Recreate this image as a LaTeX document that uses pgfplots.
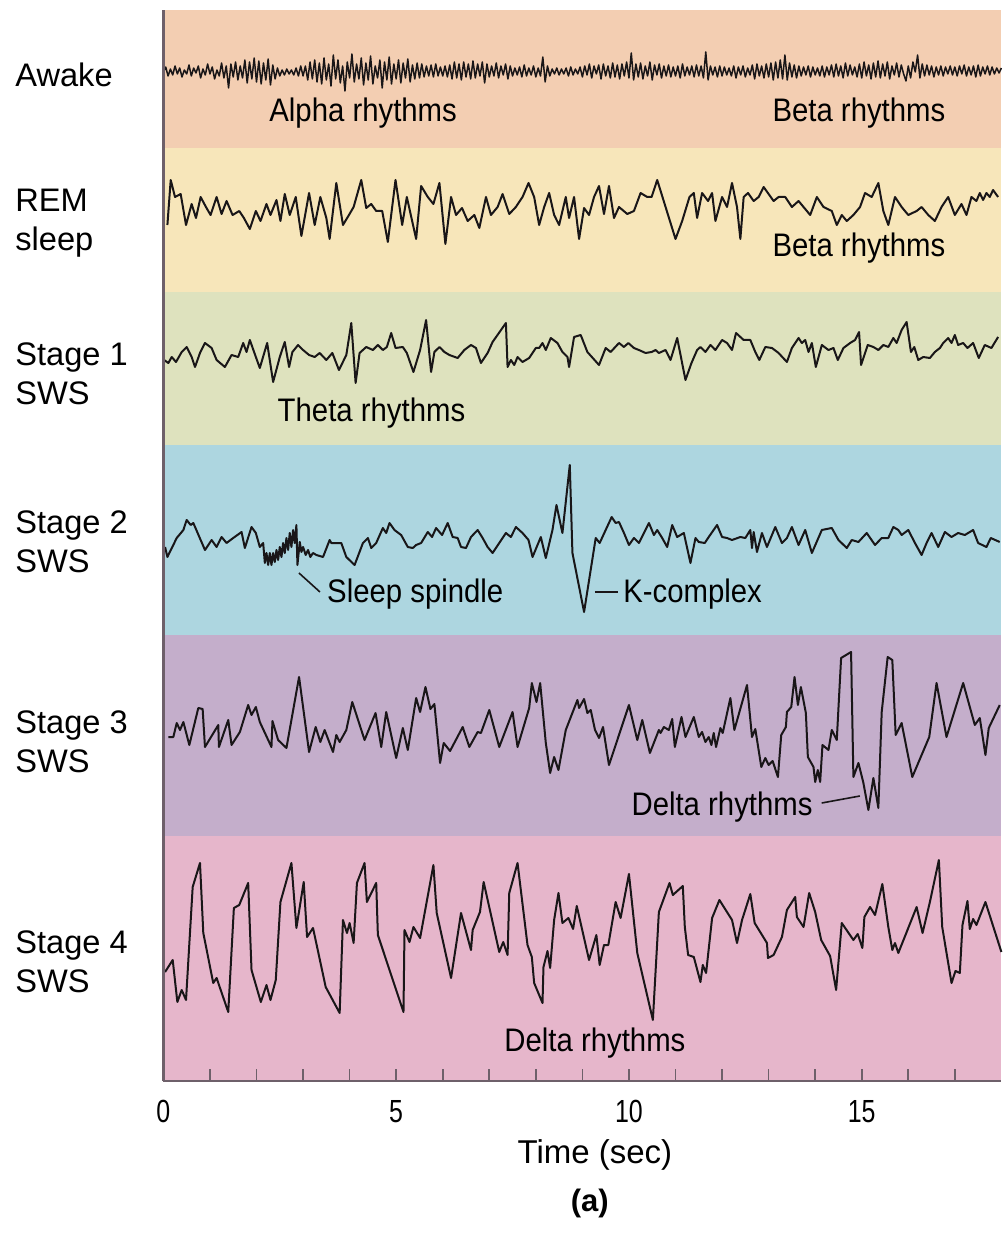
\documentclass[border=0pt]{standalone}
\usepackage{fontspec}
\setmainfont{Liberation Sans}
\newfontfamily\cond[FakeStretch=0.9]{Liberation Sans}
\newfontfamily\tickf[FakeStretch=0.78]{Liberation Sans}
\usepackage{pgfplots}
\pgfplotsset{compat=1.18}
\definecolor{cawake}{RGB}{243,206,178}
\definecolor{crem}{RGB}{247,230,186}
\definecolor{cs1}{RGB}{222,226,190}
\definecolor{cs2}{RGB}{173,214,224}
\definecolor{cs3}{RGB}{196,174,203}
\definecolor{cs4}{RGB}{230,182,203}
\definecolor{axc}{RGB}{110,96,106}
\definecolor{trc}{RGB}{25,22,24}
\newcommand\lab{\fontsize{16.3}{19.5}\selectfont}
\begin{document}
\begin{tikzpicture}
\useasboundingbox (-81.7pt,-78.5pt) rectangle (420.8pt,540.5pt);
\begin{axis}[
 scale only axis, width=419pt, height=535.5pt,
 xmin=0, xmax=18, ymin=-1081, ymax=-10,
 axis x line*=bottom, axis y line*=left,
 axis line style={-, draw=axc, line width=1.4pt},
 xtick={0,5,10,15}, minor xtick={1,2,3,4,6,7,8,9,11,12,13,14,16,17},
 ytick=\empty,
 xtick align=inside,
 major tick length=6pt, minor tick length=6pt,
 every tick/.style={draw=axc, line width=0.8pt},
 xticklabel style={font=\tickf\fontsize{16}{18}\selectfont, inner sep=0pt, anchor=north, yshift=-9.5pt},
 /pgf/number format/assume math mode=true,
 axis on top, clip=false,
]
% bands
\addplot[fill=cawake, draw=none] coordinates {(0,-10) (18,-10) (18,-148) (0,-148)} -- cycle;
\addplot[fill=crem, draw=none] coordinates {(0,-148) (18,-148) (18,-292) (0,-292)} -- cycle;
\addplot[fill=cs1, draw=none] coordinates {(0,-292) (18,-292) (18,-445) (0,-445)} -- cycle;
\addplot[fill=cs2, draw=none] coordinates {(0,-445) (18,-445) (18,-635) (0,-635)} -- cycle;
\addplot[fill=cs3, draw=none] coordinates {(0,-635) (18,-635) (18,-836) (0,-836)} -- cycle;
\addplot[fill=cs4, draw=none] coordinates {(0,-836) (18,-836) (18,-1081) (0,-1081)} -- cycle;
% Awake
\addplot[trc, line width=0.75pt, line join=round] coordinates {
(0.00,-72)(0.05,-67)(0.10,-76)(0.15,-69)(0.20,-75)(0.25,-66)(0.30,-74)(0.35,-68)(0.40,-77)(0.45,-70)(0.50,-74)(0.55,-65)(0.60,-76)(0.65,-68)(0.70,-73)(0.75,-66)(0.80,-78)(0.85,-69)(0.90,-75)(0.95,-64)
(1.00,-74)(1.05,-67)(1.10,-79)(1.15,-70)(1.20,-76)(1.25,-63)(1.30,-78)(1.35,-66)(1.40,-88)(1.45,-64)(1.50,-77)(1.55,-62)(1.60,-80)(1.65,-66)(1.70,-78)(1.75,-60)(1.80,-83)(1.85,-62)(1.90,-79)(1.95,-58)
(2.00,-82)(2.05,-61)(2.10,-84)(2.15,-63)(2.20,-80)(2.25,-59)(2.30,-85)(2.35,-65)(2.40,-79)(2.45,-68)(2.50,-76)(2.55,-70)(2.60,-75)(2.65,-69)(2.70,-74)(2.75,-70)(2.80,-75)(2.85,-68)(2.90,-76)(2.95,-66)
(3.00,-76)(3.05,-66)(3.10,-80)(3.15,-62)(3.20,-79)(3.25,-60)(3.30,-82)(3.35,-63)(3.40,-84)(3.45,-58)(3.50,-80)(3.55,-64)(3.60,-86)(3.65,-55)(3.70,-79)(3.75,-60)(3.80,-83)(3.85,-66)(3.90,-91)(3.95,-62)
(4.00,-78)(4.05,-54)(4.10,-82)(4.15,-64)(4.20,-79)(4.25,-58)(4.30,-85)(4.35,-63)(4.40,-80)(4.45,-56)(4.50,-84)(4.55,-66)(4.60,-78)(4.65,-60)(4.70,-88)(4.75,-62)(4.80,-80)(4.85,-57)(4.90,-84)(4.95,-64)
(5.00,-79)(5.05,-60)(5.10,-83)(5.15,-63)(5.20,-78)(5.25,-59)(5.30,-82)(5.35,-65)(5.40,-79)(5.45,-63)(5.50,-78)(5.55,-64)(5.60,-77)(5.65,-66)(5.70,-76)(5.75,-65)(5.80,-77)(5.85,-64)(5.90,-76)(5.95,-67)
(6.00,-76)(6.05,-66)(6.10,-77)(6.15,-65)(6.20,-79)(6.25,-62)(6.30,-78)(6.35,-64)(6.40,-80)(6.45,-62)(6.50,-77)(6.55,-64)(6.60,-79)(6.65,-61)(6.70,-78)(6.75,-64)(6.80,-76)(6.85,-62)(6.90,-83)(6.95,-64)
(7.00,-77)(7.05,-66)(7.10,-76)(7.15,-63)(7.20,-78)(7.25,-66)(7.30,-75)(7.35,-64)(7.40,-79)(7.45,-66)(7.50,-76)(7.55,-68)(7.60,-75)(7.65,-67)(7.70,-77)(7.75,-65)(7.80,-76)(7.85,-68)(7.90,-75)(7.95,-66)
(8.00,-77)(8.05,-68)(8.10,-76)(8.15,-57)(8.20,-82)(8.25,-66)(8.30,-76)(8.35,-69)(8.40,-74)(8.45,-68)(8.50,-75)(8.55,-69)(8.60,-74)(8.65,-68)(8.70,-76)(8.75,-67)(8.80,-75)(8.85,-69)(8.90,-74)(8.95,-67)
(9.00,-77)(9.05,-66)(9.10,-75)(9.15,-64)(9.20,-78)(9.25,-66)(9.30,-74)(9.35,-65)(9.40,-79)(9.45,-64)(9.50,-76)(9.55,-66)(9.60,-78)(9.65,-63)(9.70,-77)(9.75,-65)(9.80,-79)(9.85,-64)(9.90,-76)(9.95,-62)
(10.00,-78)(10.05,-53)(10.10,-80)(10.15,-64)(10.20,-77)(10.25,-63)(10.30,-79)(10.35,-66)(10.40,-76)(10.45,-62)(10.50,-80)(10.55,-65)(10.60,-75)(10.65,-64)(10.70,-78)(10.75,-66)(10.80,-76)(10.85,-65)(10.90,-77)(10.95,-67)
(11.00,-76)(11.05,-66)(11.10,-78)(11.15,-64)(11.20,-76)(11.25,-67)(11.30,-75)(11.35,-66)(11.40,-77)(11.45,-65)(11.50,-76)(11.55,-66)(11.60,-78)(11.65,-52)(11.70,-80)(11.75,-66)(11.80,-75)(11.85,-67)(11.90,-77)(11.95,-66)
(12.00,-76)(12.05,-67)(12.10,-75)(12.15,-68)(12.20,-76)(12.25,-66)(12.30,-78)(12.35,-67)(12.40,-75)(12.45,-66)(12.50,-77)(12.55,-68)(12.60,-75)(12.65,-65)(12.70,-79)(12.75,-64)(12.80,-76)(12.85,-66)(12.90,-78)(12.95,-64)
(13.00,-77)(13.05,-63)(13.10,-80)(13.15,-62)(13.20,-78)(13.25,-60)(13.30,-79)(13.35,-55)(13.40,-80)(13.45,-63)(13.50,-77)(13.55,-65)(13.60,-78)(13.65,-66)(13.70,-76)(13.75,-67)(13.80,-75)(13.85,-66)(13.90,-77)(13.95,-67)
(14.00,-75)(14.05,-68)(14.10,-76)(14.15,-66)(14.20,-77)(14.25,-67)(14.30,-75)(14.35,-65)(14.40,-77)(14.45,-64)(14.50,-76)(14.55,-66)(14.60,-78)(14.65,-63)(14.70,-76)(14.75,-65)(14.80,-75)(14.85,-67)(14.90,-77)(14.95,-64)
(15.00,-78)(15.05,-62)(15.10,-76)(15.15,-65)(15.20,-79)(15.25,-63)(15.30,-77)(15.35,-61)(15.40,-78)(15.45,-64)(15.50,-76)(15.55,-62)(15.60,-79)(15.65,-66)(15.70,-75)(15.75,-63)(15.80,-77)(15.85,-65)(15.90,-74)(15.95,-81)
(16.00,-66)(16.05,-78)(16.10,-62)(16.15,-72)(16.20,-55)(16.25,-78)(16.30,-64)(16.35,-76)(16.40,-65)(16.45,-75)(16.50,-66)(16.55,-77)(16.60,-67)(16.65,-75)(16.70,-66)(16.75,-76)(16.80,-67)(16.85,-74)(16.90,-66)(16.95,-75)
(17.00,-67)(17.05,-76)(17.10,-66)(17.15,-74)(17.20,-65)(17.25,-76)(17.30,-67)(17.35,-75)(17.40,-66)(17.45,-77)(17.50,-65)(17.55,-76)(17.60,-67)(17.65,-74)(17.70,-66)(17.75,-75)(17.80,-67)(17.85,-74)(17.90,-68)(17.95,-73)(18.00,-68)
};
% REM
\addplot[trc, line width=1pt, line join=round] coordinates {
(0.086,-225)(0.157,-180)(0.25,-197)(0.371,-194)(0.486,-225)(0.607,-204)(0.70,-218)(0.80,-197)(0.914,-207)(1.014,-215)(1.143,-197)(1.25,-214)(1.357,-201)(1.486,-215)(1.629,-211)(1.729,-218)(1.857,-229)(1.986,-211)(2.086,-221)(2.214,-204)(2.30,-215)(2.429,-200)(2.514,-221)(2.607,-194)(2.714,-215)(2.843,-197)(2.964,-236)(3.129,-193)(3.25,-225)(3.371,-197)(3.50,-218)(3.571,-239)(3.714,-183)(3.857,-225)(3.986,-215)(4.086,-207)(4.25,-180)(4.357,-208)(4.464,-204)(4.571,-211)(4.70,-211)(4.821,-242)(4.986,-180)(5.129,-225)(5.229,-197)(5.429,-239)(5.536,-186)(5.679,-197)(5.80,-204)(5.929,-183)(6.057,-244)(6.179,-197)(6.286,-215)(6.414,-208)(6.536,-221)(6.679,-215)(6.786,-228)(6.929,-197)(7.036,-215)(7.179,-207)(7.286,-194)(7.429,-214)(7.571,-207)(7.714,-197)(7.843,-183)(7.964,-197)(8.071,-225)(8.179,-207)(8.286,-193)(8.393,-215)(8.50,-225)(8.643,-197)
(8.714,-218)(8.821,-197)(8.929,-239)(9.036,-208)(9.143,-215)(9.25,-197)(9.357,-186)(9.464,-214)(9.571,-186)(9.679,-218)(9.786,-207)(9.964,-214)(10.107,-211)(10.25,-193)(10.393,-197)(10.486,-197)(10.607,-180)(11.0,-239)(11.143,-221)(11.30,-197)(11.393,-193)(11.464,-218)(11.571,-193)(11.70,-201)(11.786,-193)(11.857,-221)(12.0,-197)(12.107,-207)(12.214,-183)(12.321,-207)(12.393,-239)(12.464,-197)(12.557,-193)(12.679,-201)(12.786,-197)(12.893,-187)(13.0,-194)(13.107,-201)(13.214,-197)(13.357,-197)(13.50,-207)(13.643,-201)(13.75,-207)(13.893,-215)(14.036,-197)(14.179,-207)(14.357,-211)(14.464,-225)(14.571,-215)(14.679,-221)(14.821,-215)(14.964,-207)(15.071,-193)(15.214,-197)(15.357,-183)(15.464,-211)(15.571,-225)(15.714,-197)(15.857,-207)(16.0,-215)(16.179,-211)(16.286,-207)(16.429,-215)(16.571,-221)(16.714,-207)(16.857,-197)(17.0,-215)(17.143,-204)(17.25,-215)(17.357,-197)(17.464,-201)(17.536,-193)(17.607,-200)(17.679,-193)(17.75,-197)(17.821,-190)(17.929,-197)
};
% Stage 1
\addplot[trc, line width=1pt, line join=round] coordinates {
(0.014,-360)(0.107,-363)(0.179,-357)(0.271,-362)(0.393,-352)(0.50,-347)(0.607,-357)(0.679,-367)(0.786,-353)(0.893,-343)(1.036,-348)(1.143,-360)(1.321,-367)(1.464,-355)(1.607,-357)(1.714,-343)(1.786,-352)(1.857,-340)(1.986,-357)(2.071,-368)(2.229,-343)(2.357,-382)(2.50,-357)(2.607,-342)(2.70,-367)(2.771,-352)(2.893,-345)(3.0,-350)(3.129,-355)(3.25,-357)(3.357,-353)(3.50,-360)(3.629,-353)(3.771,-370)(3.929,-355)(4.036,-323)(4.129,-383)(4.214,-353)(4.357,-347)(4.50,-350)(4.607,-345)(4.714,-350)(4.80,-347)(4.893,-333)(4.986,-348)(5.143,-347)(5.229,-353)(5.371,-372)(5.514,-350)(5.643,-320)(5.75,-372)(5.821,-352)(5.929,-347)(6.036,-352)(6.143,-355)(6.321,-358)(6.464,-350)(6.607,-345)(6.714,-348)(6.821,-363)(6.964,-353)(7.071,-342)(7.357,-323)(7.393,-367)(7.464,-360)(7.536,-365)(7.607,-357)(7.714,-362)(7.857,-358)(8.0,-348)(8.071,-348)(8.143,-343)(8.214,-350)(8.321,-338)(8.464,-343)(8.571,-352)(8.679,-357)
(8.714,-367)(8.821,-337)(8.964,-335)(9.107,-352)(9.357,-365)(9.50,-348)(9.607,-352)(9.786,-343)(9.893,-347)(9.986,-343)(10.107,-348)(10.214,-350)(10.357,-353)(10.486,-352)(10.571,-350)(10.643,-353)(10.786,-350)(10.893,-360)(11.036,-338)(11.214,-380)(11.343,-363)(11.464,-350)(11.536,-347)(11.643,-352)(11.75,-345)(11.857,-350)(12.0,-340)(12.107,-343)(12.214,-350)(12.30,-333)(12.464,-340)(12.607,-340)(12.714,-352)(12.80,-360)(12.929,-347)(13.071,-348)(13.214,-353)(13.393,-362)(13.50,-348)(13.643,-338)(13.714,-343)(13.786,-340)(13.857,-352)(13.929,-343)(14.014,-367)(14.143,-345)(14.286,-350)(14.393,-348)(14.486,-360)(14.607,-348)(14.75,-343)(14.857,-340)(14.943,-332)(14.986,-365)(15.129,-345)(15.25,-347)(15.357,-350)(15.464,-345)(15.571,-347)(15.679,-338)(15.75,-343)(15.857,-330)(15.964,-322)(16.057,-352)(16.129,-347)(16.214,-360)(16.321,-357)(16.464,-358)(16.571,-352)(16.679,-348)(16.75,-343)(16.857,-338)(16.929,-343)(17.0,-335)(17.071,-345)(17.179,-343)(17.271,-348)(17.393,-343)(17.514,-358)(17.643,-345)(17.786,-348)(17.929,-337)
};
% Stage 2
\addplot[trc, line width=1pt, line join=round] coordinates {
(0.036,-547)(0.086,-557)(0.286,-538)(0.429,-530)(0.50,-520)(0.586,-525)(0.643,-523)(0.893,-550)(1.036,-540)(1.143,-547)(1.25,-537)(1.357,-543)(1.50,-538)(1.679,-532)(1.75,-548)(1.893,-527)(1.986,-533)(2.071,-547)(2.143,-543)
(2.179,-563)(2.214,-553)(2.25,-565)(2.286,-553)(2.321,-565)(2.357,-553)(2.393,-562)(2.429,-550)(2.464,-560)(2.50,-547)(2.536,-557)(2.571,-543)(2.607,-553)(2.643,-538)(2.679,-550)(2.714,-533)(2.75,-547)(2.786,-530)(2.821,-543)(2.857,-525)(2.879,-565)(2.929,-542)(2.964,-552)(3.0,-547)(3.057,-555)(3.107,-550)(3.157,-557)(3.214,-553)(3.286,-555)(3.429,-557)(3.571,-540)(3.607,-543)(3.821,-543)(3.929,-557)(4.107,-565)(4.286,-543)(4.393,-538)(4.464,-548)(4.571,-543)(4.714,-528)(4.786,-533)(4.857,-523)(4.964,-530)(5.107,-535)(5.25,-547)(5.357,-548)(5.429,-545)(5.536,-543)(5.679,-532)(5.771,-537)(5.857,-528)(5.986,-535)(6.107,-523)(6.214,-537)(6.321,-538)(6.393,-547)(6.50,-548)(6.607,-537)(6.75,-530)(6.857,-538)(6.964,-547)(7.071,-553)(7.214,-543)(7.357,-533)(7.464,-537)(7.571,-527)(7.714,-533)(7.843,-540)(7.929,-557)(8.107,-537)(8.214,-558)(8.357,-530)(8.443,-505)(8.571,-533)(8.729,-465)(8.786,-553)(9.036,-612)
(9.286,-538)(9.371,-543)(9.629,-517)(9.714,-523)(9.786,-522)(9.893,-533)(10.0,-545)(10.107,-538)(10.214,-543)(10.429,-523)(10.536,-535)(10.607,-530)(10.714,-538)(10.821,-547)(10.929,-525)(11.036,-537)(11.179,-533)(11.321,-563)(11.429,-538)(11.50,-542)(11.629,-543)(11.714,-537)(11.893,-525)(12.0,-537)(12.107,-538)(12.214,-540)(12.393,-537)(12.50,-538)(12.607,-530)(12.643,-548)(12.679,-532)(12.75,-552)(12.857,-533)(12.964,-547)(13.143,-527)(13.286,-543)(13.393,-538)(13.50,-527)(13.643,-545)(13.786,-530)(13.929,-553)(14.143,-530)(14.357,-528)(14.50,-540)(14.679,-548)(14.786,-540)(14.929,-542)(15.107,-533)(15.286,-545)(15.429,-538)(15.571,-538)(15.679,-527)(15.786,-530)(15.857,-535)(16.0,-530)(16.143,-543)(16.286,-555)(16.393,-543)(16.50,-533)(16.643,-547)(16.786,-532)(16.929,-537)(17.071,-533)(17.214,-535)(17.393,-530)(17.50,-543)(17.679,-547)(17.771,-538)(17.964,-542)
};
% Stage 3
\addplot[trc, line width=1pt, line join=round] coordinates {
(0.107,-737)(0.214,-737)(0.286,-723)(0.357,-730)(0.429,-722)(0.557,-745)(0.75,-708)(0.843,-709)(0.893,-747)(1.179,-725)(1.193,-747)(1.393,-720)(1.464,-745)(1.643,-732)(1.821,-705)(1.893,-715)(1.986,-707)(2.071,-722)(2.321,-747)(2.343,-721)(2.464,-740)(2.643,-748)(2.914,-677)(3.129,-752)(3.271,-727)(3.371,-742)(3.464,-730)(3.643,-752)(3.714,-735)(3.786,-742)(3.929,-730)(4.057,-702)(4.321,-740)(4.557,-713)(4.679,-747)(4.786,-712)(5.0,-758)(5.143,-728)(5.25,-750)(5.429,-698)(5.514,-712)(5.629,-687)(5.736,-709)(5.821,-704)(5.943,-763)(6.021,-743)(6.157,-751)(6.429,-727)(6.571,-747)(6.75,-732)(6.821,-733)(7.0,-710)(7.214,-747)(7.50,-712)(7.607,-747)(7.857,-708)(7.914,-683)(8.014,-702)(8.093,-683)(8.214,-743)(8.307,-773)(8.393,-757)(8.486,-770)(8.643,-730)(8.893,-700)
(8.929,-708)(9.036,-699)(9.107,-713)(9.179,-710)(9.271,-730)(9.357,-738)(9.443,-727)(9.571,-765)(10.0,-705)(10.179,-740)(10.286,-720)(10.45,-753)(10.643,-730)(10.679,-733)(10.75,-727)(10.857,-730)(10.929,-719)(10.986,-747)(11.129,-717)(11.214,-737)(11.393,-717)(11.50,-737)(11.571,-732)(11.643,-742)(11.714,-737)(11.771,-745)(11.821,-733)(11.871,-747)(11.964,-728)(12.014,-733)(12.179,-698)(12.264,-730)(12.536,-685)(12.643,-737)(12.714,-729)(12.843,-767)(12.929,-758)(13.0,-765)(13.086,-761)(13.20,-777)(13.271,-735)(13.371,-727)(13.393,-712)(13.486,-707)(13.557,-677)(13.629,-705)(13.693,-687)(13.80,-713)(13.843,-757)(13.964,-767)(14.0,-782)(14.057,-770)(14.107,-782)(14.157,-745)(14.286,-750)(14.357,-730)(14.464,-740)(14.557,-658)(14.771,-652)(14.821,-777)(14.929,-763)(15.036,-783)(15.143,-810)(15.25,-778)(15.357,-808)(15.429,-712)(15.557,-657)(15.657,-660)(15.729,-735)(15.857,-723)(16.086,-777)(16.45,-737)(16.607,-683)(16.821,-737)(17.179,-683)(17.429,-725)(17.536,-718)(17.657,-755)(17.729,-728)(17.964,-705)
};
% Stage 4
\addplot[trc, line width=1pt, line join=round] coordinates {
(0.036,-972)(0.20,-960)(0.30,-1002)(0.393,-990)(0.486,-1000)(0.629,-887)(0.786,-863)(0.857,-933)(1.071,-983)(1.143,-978)(1.393,-1012)(1.514,-908)(1.629,-905)(1.821,-883)(1.893,-970)(2.093,-1002)(2.214,-985)(2.30,-1000)(2.414,-980)(2.514,-902)(2.75,-863)(2.857,-928)(3.014,-882)(3.086,-937)(3.214,-928)(3.486,-987)(3.786,-1013)(3.857,-920)(3.943,-933)(4.0,-923)(4.086,-943)(4.157,-883)(4.321,-863)(4.371,-902)(4.571,-883)(4.607,-935)(5.157,-1012)(5.179,-930)(5.286,-942)(5.371,-927)(5.514,-938)(5.80,-865)(5.871,-913)(6.179,-978)(6.393,-913)(6.607,-950)(6.643,-930)(6.80,-912)(6.879,-882)(7.214,-952)(7.30,-942)(7.393,-955)(7.429,-893)(7.607,-863)(7.821,-945)(7.914,-957)(7.964,-983)(8.143,-1003)(8.164,-967)(8.25,-951)(8.307,-968)(8.393,-920)(8.486,-893)(8.571,-923)(8.70,-918)(8.80,-929)(8.879,-906)
(9.143,-960)(9.30,-935)(9.371,-965)(9.464,-945)(9.557,-945)(9.714,-902)(9.821,-918)(10.0,-874)(10.179,-953)(10.514,-1020)(10.643,-912)(10.871,-883)(10.943,-895)(11.157,-886)(11.20,-927)(11.271,-955)(11.393,-957)(11.536,-982)(11.586,-965)(11.657,-973)(11.786,-918)(11.943,-900)(12.214,-920)(12.321,-943)(12.429,-920)(12.607,-894)(12.70,-923)(12.964,-943)(12.986,-958)(13.107,-955)(13.286,-937)(13.393,-910)(13.571,-897)(13.607,-917)(13.75,-927)(13.871,-893)(14.0,-912)(14.129,-940)(14.321,-956)(14.45,-990)(14.571,-923)(14.821,-940)(14.914,-934)(15.014,-948)(15.057,-917)(15.179,-907)(15.286,-915)(15.443,-884)(15.571,-927)(15.657,-950)(15.714,-943)(15.786,-953)(16.179,-907)(16.307,-933)(16.464,-902)(16.657,-860)(16.729,-927)(16.929,-983)(17.014,-971)(17.107,-973)(17.164,-925)(17.271,-901)(17.321,-929)(17.393,-919)(17.464,-925)(17.657,-902)(18.0,-952)
};
% row labels
\node[anchor=west, align=left, font=\lab, inner sep=0pt] at (axis cs:-3.187,-75) {Awake};
\node[anchor=west, align=left, font=\lab, inner sep=0pt] at (axis cs:-3.187,-223) {REM\\sleep};
\node[anchor=west, align=left, font=\lab, inner sep=0pt] at (axis cs:-3.187,-374) {Stage 1\\SWS};
\node[anchor=west, align=left, font=\lab, inner sep=0pt] at (axis cs:-3.187,-542) {Stage 2\\SWS};
\node[anchor=west, align=left, font=\lab, inner sep=0pt] at (axis cs:-3.187,-742) {Stage 3\\SWS};
\node[anchor=west, align=left, font=\lab, inner sep=0pt] at (axis cs:-3.187,-962) {Stage 4\\SWS};
% annotations
\node[font=\cond\lab, inner sep=0pt] at (axis cs:4.29,-113) {Alpha rhythms};
\node[font=\cond\lab, inner sep=0pt] at (axis cs:14.94,-113) {Beta rhythms};
\node[font=\cond\lab, inner sep=0pt] at (axis cs:14.94,-248) {Beta rhythms};
\node[font=\cond\lab, inner sep=0pt] at (axis cs:4.47,-413) {Theta rhythms};
\node[font=\cond\lab, inner sep=0pt, anchor=west] at (axis cs:3.51,-594) {Sleep spindle};
\draw[trc, line width=0.8pt] (axis cs:2.912,-573) -- (axis cs:3.363,-592);
\node[font=\cond\lab, inner sep=0pt, anchor=west] at (axis cs:9.87,-594) {K-complex};
\draw[trc, line width=0.8pt] (axis cs:9.27,-592) -- (axis cs:9.76,-592);
\node[font=\cond\lab, inner sep=0pt] at (axis cs:12.0,-807) {Delta rhythms};
\draw[trc, line width=0.8pt] (axis cs:14.14,-803) -- (axis cs:14.96,-796);
\node[font=\cond\lab, inner sep=0pt] at (axis cs:9.27,-1043) {Delta rhythms};
% axis title and panel label
\node[font=\fontsize{16.5}{19}\selectfont, inner sep=0pt] at (axis cs:9.27,-1155) {Time (sec)};
\node[font=\bfseries\fontsize{15.5}{18}\selectfont, inner sep=0pt] at (axis cs:9.16,-1203) {(a)};
\end{axis}
\end{tikzpicture}
\end{document}
